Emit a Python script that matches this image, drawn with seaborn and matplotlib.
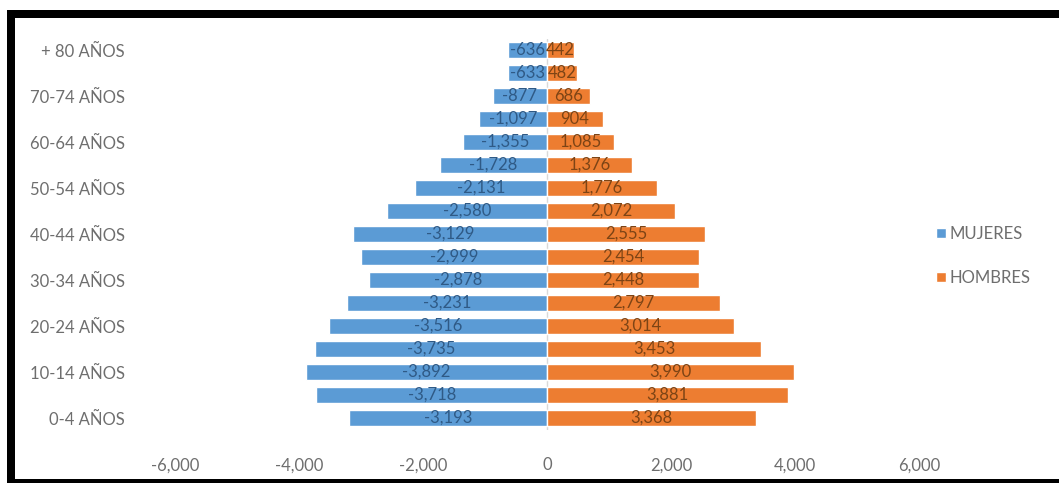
import matplotlib
matplotlib.use("Agg")
import matplotlib.pyplot as plt
import seaborn as sns
import pandas as pd
from matplotlib.lines import Line2D
from matplotlib.ticker import FuncFormatter

# Age groups, oldest first (top of the pyramid)
grupos = ["+ 80 AÑOS", "75-79 AÑOS", "70-74 AÑOS", "65-69 AÑOS", "60-64 AÑOS",
          "55-59 AÑOS", "50-54 AÑOS", "45-49 AÑOS", "40-44 AÑOS", "35-39 AÑOS",
          "30-34 AÑOS", "25-29 AÑOS", "20-24 AÑOS", "15-19 AÑOS", "10-14 AÑOS",
          "5-9 AÑOS", "0-4 AÑOS"]
mujeres = [-636, -633, -877, -1097, -1355, -1728, -2131, -2580, -3129, -2999,
           -2878, -3231, -3516, -3735, -3892, -3718, -3193]
hombres = [442, 482, 686, 904, 1085, 1376, 1776, 2072, 2555, 2454,
           2448, 2797, 3014, 3453, 3990, 3881, 3368]
series = ["MUJERES", "HOMBRES"]
xticks = [-6000, -4000, -2000, 0, 2000, 4000, 6000]

colores = {"MUJERES": "#5B9BD5", "HOMBRES": "#ED7D31"}
color_etiqueta = {"MUJERES": "#2f5a86", "HOMBRES": "#7d4415"}
gris = "#6e6e6e"

df = pd.DataFrame({
    "grupo": grupos * 2,
    "valor": mujeres + hombres,
    "sexo": [series[0]] * len(grupos) + [series[1]] * len(grupos),
})

sns.set_theme(style="white")
plt.rcParams["font.family"] = ["Lato", "DejaVu Sans"]

fig = plt.figure(figsize=(10.59, 4.83), dpi=100)
ax = fig.add_axes([175 / 1059, 1 - 429.5 / 483, (919 - 175) / 1059, (429.5 - 38.5) / 483])

sns.barplot(data=df, x="valor", y="grupo", hue="sexo", order=grupos,
            hue_order=series, palette=colores, dodge=False, width=0.7,
            saturation=1, orient="h", ax=ax, legend=True)

for cont, nombre in zip(ax.containers, series):
    ax.bar_label(cont, fmt="{:,.0f}", label_type="center",
                 fontsize=12, color=color_etiqueta[nombre])

ax.set_xlim(-6000, 6000)
ax.set_ylim(len(grupos) - 0.5, -0.5)
ax.set_xticks(xticks)
ax.xaxis.set_major_formatter(FuncFormatter(lambda v, p: f"{v:,.0f}"))
ax.set_yticks(range(len(grupos)))
ax.set_yticklabels([g if i % 2 == 0 else "" for i, g in enumerate(grupos)])
ax.tick_params(axis="x", length=0, pad=20, labelsize=12, labelcolor=gris)
ax.tick_params(axis="y", length=0, pad=36, labelsize=12, labelcolor=gris)
ax.set_xlabel("")
ax.set_ylabel("")
for s in ax.spines.values():
    s.set_visible(False)
ax.axvline(0, color="#d9d9d9", lw=1, zorder=0)

leg = ax.legend(loc="center left", bbox_to_anchor=(928 / 1059, 1 - 256 / 483),
                bbox_transform=fig.transFigure, frameon=False, fontsize=12,
                labelspacing=1.7, handlelength=0.55, handleheight=0.55,
                handletextpad=0.25, borderpad=0)
for t in leg.get_texts():
    t.set_color(gris)

# Black frame on the left, top and bottom edges
W, H = 1059, 483
fig.add_artist(Line2D([7 / W, 1], [1 - 14 / H, 1 - 14 / H], color="black",
                      lw=8 * 72 / 100, transform=fig.transFigure, solid_capstyle="butt"))
fig.add_artist(Line2D([11 / W, 11 / W], [0, 1 - 10 / H], color="black",
                      lw=8 * 72 / 100, transform=fig.transFigure, solid_capstyle="butt"))
fig.add_artist(Line2D([7 / W, 1], [2.5 / H, 2.5 / H], color="black",
                      lw=5 * 72 / 100, transform=fig.transFigure, solid_capstyle="butt"))

fig.savefig("out.png", dpi=100, facecolor="white")
